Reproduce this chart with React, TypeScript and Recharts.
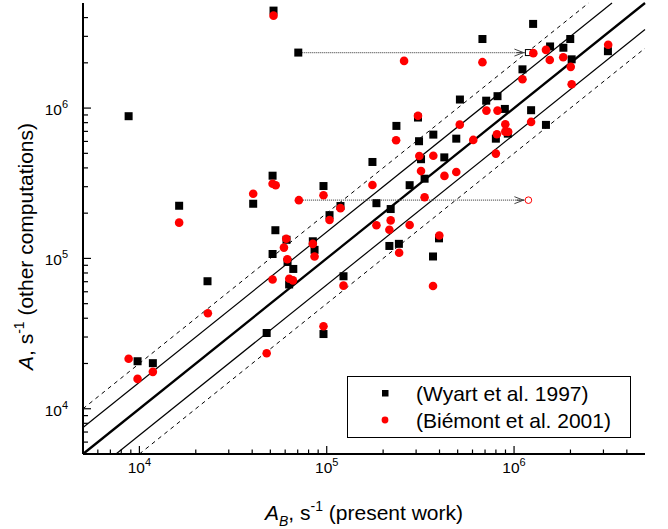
import React from 'react';
import { ScatterChart, Scatter, XAxis, YAxis, ReferenceLine, Legend } from 'recharts';

const FONT = 'Arial, "Liberation Sans", Helvetica, sans-serif';

// Axis range (both axes logarithmic)
const AXIS_MIN = 5000;
const AXIS_MAX = 5e6;

// Tick values
const majorTicks = [1e4, 1e5, 1e6];
const majorTickExponents = ['4', '5', '6'];
const minorMultipliers = [2, 3, 4, 5, 6, 7, 8, 9];
const tickDecades = [1e3, 1e4, 1e5, 1e6];
const allTicks: number[] = [];
tickDecades.forEach((d) => {
  [1, ...minorMultipliers].forEach((m) => {
    const v = d * m;
    if (v > AXIS_MIN && v < AXIS_MAX) allTicks.push(v);
  });
});

// Comparison lines y = f*x and y = x/f
const unityFactor = 1;
const solidBandFactor = 1.5;
const dashedBandFactor = 2;

// (Wyart et al. 1997): A_B (present work) vs A (other computations)
const wyartPresent = [
  52000, 70500, 8760, 51400, 16300, 40500, 96100, 103500, 118400, 53200,
  84300, 86100, 61000, 51400, 61800, 66300, 63000, 23100, 122900, 9780,
  11800, 47800, 96100, 175400, 184200, 219500, 216000, 242800, 235500, 307000,
  370700, 311000, 491500, 318700, 424300, 333000, 277100, 397500, 369300, 514000,
  710000, 816000, 893000, 799600, 926000, 1233000, 1480000, 1109000, 1264000, 678000,
  1557000, 1833000, 1995000, 2030000, 3170000,
];
const wyartOther = [
  4450000, 2340000, 883000, 355000, 224000, 231000, 303000, 194000, 223000, 154000,
  130000, 114000, 133000, 107000, 94700, 85100, 67100, 70500, 76100, 20700,
  20100, 31900, 31400, 438000, 233000, 213000, 121000, 125000, 761000, 865000,
  666000, 602000, 626000, 457000, 470000, 339000, 307000, 136000, 103000, 1140000,
  1120000, 1200000, 987000, 626000, 676000, 968000, 773000, 1810000, 3630000, 2880000,
  2570000, 2520000, 2880000, 2110000, 2390000,
];

// (Biémont et al. 2001)
const biemontPresent = [
  52000, 40500, 51400, 53400, 16300, 71000, 96100, 103500, 118400, 60800,
  59100, 84300, 86100, 61600, 51400, 63100, 66000, 122900, 23200, 8760,
  9780, 11800, 47800, 96100, 369300, 175400, 184200, 219500, 216000, 243500,
  277100, 399000, 333000, 234600, 307000, 513000, 605600, 312000, 370700, 799600,
  318700, 425000, 491500, 712000, 816000, 898000, 810000, 898000, 930000, 1233000,
  1109000, 678000, 258800, 1267000, 1480000, 1551000, 1830000, 2007000, 2030000, 3180000,
];
const biemontOther = [
  4120000, 269000, 314000, 307000, 173000, 244000, 263000, 180000, 216000, 135000,
  118000, 125000, 103000, 98700, 72400, 73200, 71400, 65900, 43200, 21500,
  15800, 17600, 23400, 35400, 65600, 308000, 166000, 179000, 155000, 109000,
  167000, 142000, 255000, 611000, 890000, 776000, 614000, 480000, 482000, 498000,
  381000, 354000, 376000, 962000, 962000, 781000, 670000, 697000, 695000, 809000,
  1556000, 2020000, 2060000, 2320000, 2440000, 2090000, 2180000, 1880000, 1440000, 2640000,
];

// Shifted values (arrows): start -> end
const wyartShiftPresent = [70500, 1193000];
const wyartShiftOther = [2340000, 2340000];
const biemontShiftPresent = [71000, 1193000];
const biemontShiftOther = [244000, 244000];

const legendItems = [
  { name: '(Wyart et al. 1997)', color: '#000000', kind: 'square' },
  { name: '(Biémont et al. 2001)', color: '#ff0000', kind: 'circle' },
];

const zip = (xs: number[], ys: number[]) => xs.map((x, i) => ({ x, y: ys[i], end: i === xs.length - 1 }));
const wyartData = zip(wyartPresent, wyartOther);
const biemontData = zip(biemontPresent, biemontOther);
const wyartArrow = zip(wyartShiftPresent, wyartShiftOther);
const biemontArrow = zip(biemontShiftPresent, biemontShiftOther);

const upperSeg = (f: number) => [
  { x: AXIS_MIN, y: AXIS_MIN * f },
  { x: AXIS_MAX / f, y: AXIS_MAX },
];
const lowerSeg = (f: number) => [
  { x: AXIS_MIN * f, y: AXIS_MIN },
  { x: AXIS_MAX, y: AXIS_MAX / f },
];

const expFor = (v: number) => {
  const i = majorTicks.findIndex((m) => Math.abs(m - v) / m < 1e-6);
  return i >= 0 ? majorTickExponents[i] : null;
};

const BottomTick = (props: any) => {
  const { x, y, payload } = props;
  const exp = expFor(payload.value);
  return (
    <g>
      <line x1={x} x2={x} y1={y} y2={y - (exp ? 8 : 4.5)} stroke="#000" strokeWidth={1.2} />
      {exp && (
        <text x={x} y={y + 19} textAnchor="middle" fontFamily={FONT} fontSize={15.5} fill="#000">
          10<tspan dy={-7} fontSize={11}>{exp}</tspan>
        </text>
      )}
    </g>
  );
};

const LeftTick = (props: any) => {
  const { x, y, payload } = props;
  const exp = expFor(payload.value);
  return (
    <g>
      <line x1={x} x2={x + (exp ? 8 : 5)} y1={y} y2={y} stroke="#000" strokeWidth={1.2} />
      {exp && (
        <text x={x - 15} y={y + 7} textAnchor="end" fontFamily={FONT} fontSize={15.5} fill="#000">
          10<tspan dy={-7} fontSize={11}>{exp}</tspan>
        </text>
      )}
    </g>
  );
};

const TopTick = (props: any) => {
  const { x, y } = props;
  return <line x1={x} x2={x} y1={y} y2={y + 2.5} stroke="#000" strokeWidth={1} />;
};

const RightTick = (props: any) => {
  const { x, y } = props;
  return <line x1={x} x2={x - 3} y1={y} y2={y} stroke="#000" strokeWidth={1} />;
};

const XTitle = (props: any) => {
  const vb = props.viewBox || { x: 83, y: 454, width: 562, height: 75 };
  const cx = vb.x + vb.width / 2;
  const y = vb.y + 66;
  return (
    <text x={cx} y={y} textAnchor="middle" fontFamily={FONT} fontSize={21} fill="#000">
      <tspan fontStyle="italic">A</tspan>
      <tspan fontStyle="italic" fontSize={14} dy={6}>B</tspan>
      <tspan dy={-6}>, s</tspan>
      <tspan fontSize={14} dy={-9}>-1</tspan>
      <tspan dy={9}> (present work)</tspan>
    </text>
  );
};

const YTitle = (props: any) => {
  const vb = props.viewBox || { x: 0, y: 3, width: 83, height: 451 };
  const x = vb.x + 33;
  const cy = vb.y + vb.height / 2 + 18;
  return (
    <text
      x={x}
      y={cy}
      transform={`rotate(-90, ${x}, ${cy})`}
      textAnchor="middle"
      fontFamily={FONT}
      fontSize={21}
      fill="#000"
    >
      <tspan fontStyle="italic">A</tspan>
      <tspan>, s</tspan>
      <tspan fontSize={14} dy={-9}>-1</tspan>
      <tspan dy={9}> (other computations)</tspan>
    </text>
  );
};

const SquareShape = (p: any) => <rect x={p.cx - 4} y={p.cy - 4} width={8} height={8} fill="#000" />;
const CircleShape = (p: any) => <circle cx={p.cx} cy={p.cy} r={4.3} fill="#ff0000" />;

const ArrowEnd = (color: string, kind: string) => (p: any) => {
  if (!p.payload || !p.payload.end) return <g />;
  const { cx, cy } = p;
  return (
    <g>
      <polyline
        points={`${cx - 14},${cy - 3.5} ${cx - 5},${cy} ${cx - 14},${cy + 3.5}`}
        fill="none"
        stroke="#444"
        strokeWidth={1}
      />
      <line x1={cx - 12} x2={cx - 4} y1={cy} y2={cy} stroke="#444" strokeWidth={1.2} />
      {kind === 'square' ? (
        <rect x={cx - 3} y={cy - 3} width={6} height={6} fill="#fff" stroke={color} strokeWidth={1} />
      ) : (
        <circle cx={cx} cy={cy} r={3.3} fill="#fff" stroke={color} strokeWidth={1} />
      )}
    </g>
  );
};

const LegendContent = () => (
  <div
    style={{
      position: 'relative',
      width: 284,
      height: 62,
      border: '1px solid #000',
      boxSizing: 'border-box',
      background: '#fff',
      fontFamily: FONT,
      fontSize: 21,
      color: '#000',
    }}
  >
    {legendItems.map((item, i) => (
      <div
        key={i}
        style={{ position: 'absolute', left: 0, top: 2.5 + i * 27, height: 27, lineHeight: '27px', width: 282 }}
      >
        <svg width={8} height={8} style={{ position: 'absolute', left: 33, top: 9.5 }}>
          {item.kind === 'square' ? (
            <rect x={1} y={1} width={6.5} height={6.5} fill={item.color} />
          ) : (
            <circle cx={4} cy={4} r={3.4} fill={item.color} />
          )}
        </svg>
        <span style={{ position: 'absolute', left: 68, whiteSpace: 'nowrap' }}>{item.name}</span>
      </div>
    ))}
  </div>
);

const axisLine = { stroke: '#000', strokeWidth: 2 };

export default function App() {
  return (
    <div style={{ position: 'absolute', left: 0, top: 0, background: '#fff' }}>
      <ScatterChart width={668} height={529} margin={{ top: 3, right: 23, bottom: 0, left: 0 }}>
        <XAxis
          type="number"
          dataKey="x"
          scale="log"
          domain={[AXIS_MIN, AXIS_MAX]}
          allowDataOverflow
          ticks={allTicks}
          interval={0}
          tickSize={0}
          tickMargin={0}
          tickLine={false}
          axisLine={axisLine}
          tick={<BottomTick />}
          height={75}
          label={<XTitle />}
        />
        <XAxis
          xAxisId="top"
          orientation="top"
          type="number"
          dataKey="x"
          scale="log"
          domain={[AXIS_MIN, AXIS_MAX]}
          allowDataOverflow
          ticks={allTicks}
          interval={0}
          tickSize={0}
          tickMargin={0}
          tickLine={false}
          axisLine={axisLine}
          tick={<TopTick />}
          height={0}
        />
        <YAxis
          type="number"
          dataKey="y"
          scale="log"
          domain={[AXIS_MIN, AXIS_MAX]}
          allowDataOverflow
          ticks={allTicks}
          interval={0}
          tickSize={0}
          tickMargin={0}
          tickLine={false}
          axisLine={axisLine}
          tick={<LeftTick />}
          width={83}
          label={<YTitle />}
        />
        <YAxis
          yAxisId="right"
          orientation="right"
          type="number"
          dataKey="y"
          scale="log"
          domain={[AXIS_MIN, AXIS_MAX]}
          allowDataOverflow
          ticks={allTicks}
          interval={0}
          tickSize={0}
          tickMargin={0}
          tickLine={false}
          axisLine={axisLine}
          tick={<RightTick />}
          width={0}
        />

        <ReferenceLine segment={upperSeg(dashedBandFactor)} stroke="#000" strokeWidth={1} strokeDasharray="4 4" ifOverflow="visible" />
        <ReferenceLine segment={lowerSeg(dashedBandFactor)} stroke="#000" strokeWidth={1} strokeDasharray="4 4" ifOverflow="visible" />
        <ReferenceLine segment={upperSeg(solidBandFactor)} stroke="#000" strokeWidth={1.2} ifOverflow="visible" />
        <ReferenceLine segment={lowerSeg(solidBandFactor)} stroke="#000" strokeWidth={1.2} ifOverflow="visible" />
        <ReferenceLine segment={upperSeg(unityFactor)} stroke="#000" strokeWidth={2.3} ifOverflow="visible" />

        <Scatter
          data={wyartArrow}
          line={{ stroke: '#555', strokeWidth: 1.3, strokeDasharray: '1 1' }}
          lineType="joint"
          shape={ArrowEnd('#000', 'square')}
          isAnimationActive={false}
          legendType="none"
        />
        <Scatter
          data={biemontArrow}
          line={{ stroke: '#555', strokeWidth: 1.3, strokeDasharray: '1 1' }}
          lineType="joint"
          shape={ArrowEnd('#ff0000', 'circle')}
          isAnimationActive={false}
          legendType="none"
        />
        <Scatter name="(Wyart et al. 1997)" data={wyartData} shape={SquareShape} isAnimationActive={false} />
        <Scatter name="(Biémont et al. 2001)" data={biemontData} shape={CircleShape} isAnimationActive={false} />

        <Legend
          layout="vertical"
          align="center"
          verticalAlign="middle"
          content={<LegendContent />}
          wrapperStyle={{ left: 347, top: 376, width: 284, height: 62 }}
        />
      </ScatterChart>
    </div>
  );
}
